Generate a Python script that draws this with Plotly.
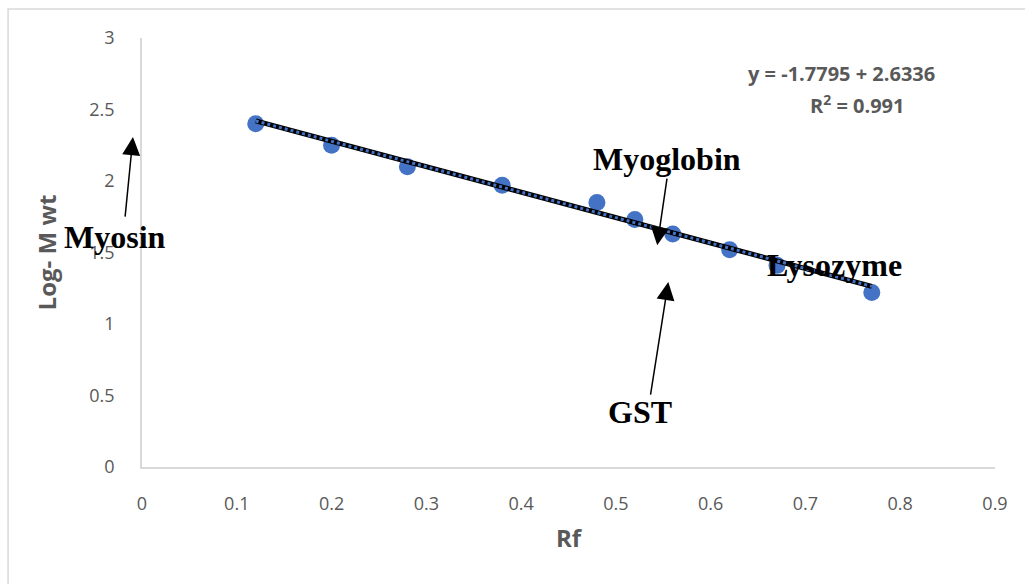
import plotly.graph_objects as go

# Marker proteins: relative mobility vs log molecular weight
rf = [0.12, 0.20, 0.28, 0.38, 0.48, 0.52, 0.56, 0.62, 0.67, 0.77]
log_mw = [2.40, 2.25, 2.10, 1.97, 1.85, 1.73, 1.63, 1.52, 1.41, 1.22]

# Linear fit coefficients and its span
slope = -1.7795
intercept = 2.6336
fit_x = [0.12, 0.77]
fit_y = [intercept + slope * v for v in fit_x]

x_ticks = [0, 0.1, 0.2, 0.3, 0.4, 0.5, 0.6, 0.7, 0.8, 0.9]
x_tick_text = ["0", "0.1", "0.2", "0.3", "0.4", "0.5", "0.6", "0.7", "0.8", "0.9"]
y_ticks = [0, 0.5, 1, 1.5, 2, 2.5, 3]
y_tick_text = ["0", "0.5", "1", "1.5", "2", "2.5", "3"]

# Protein labels in paper coords:
# (name, text x, text y, arrow tip x, arrow tip y, tail dx, tail dy)
proteins = [
    ("Myosin", -0.0317, 0.536, -0.0106, 0.769, -8, 81),
    ("Myoglobin", 0.615, 0.718, 0.604, 0.517, 10, -68),
    ("Lysozyme", 0.812, 0.471, None, None, None, None),
    ("GST", 0.584, 0.128, 0.617, 0.431, -18, 114),
]

CAL = "Liberation Sans Narrow, Open Sans, sans-serif"
GRAY = "#595959"
AXIS = "#d9d9d9"

fig = go.Figure()

fig.add_trace(go.Scatter(
    x=rf, y=log_mw, mode="markers",
    marker=dict(color="#4472C4", size=17, line=dict(width=0)),
    showlegend=False, cliponaxis=False,
))

# Trend line: thick black stroke with blue dots on top
fig.add_trace(go.Scatter(
    x=fit_x, y=fit_y, mode="lines",
    line=dict(color="black", width=5),
    showlegend=False,
))
fig.add_trace(go.Scatter(
    x=fit_x, y=fit_y, mode="lines",
    line=dict(color="#4472C4", width=3, dash="dot"),
    showlegend=False,
))

annotations = []
for name, tx, ty, hx, hy, dx, dy in proteins:
    if hx is not None:
        annotations.append(dict(
            x=hx, y=hy, xref="paper", yref="paper", text="",
            showarrow=True, ax=dx, ay=dy, axref="pixel", ayref="pixel",
            arrowhead=2, arrowsize=2.4, arrowwidth=1.5, arrowcolor="black",
        ))
    annotations.append(dict(
        x=tx, y=ty, xref="paper", yref="paper", text="<b>%s</b>" % name,
        showarrow=False, xanchor="center", yanchor="middle",
        font=dict(family="Liberation Serif, Times New Roman, serif", size=32, color="black"),
    ))

annotations.append(dict(
    x=0.738, y=2.755, xref="x", yref="y",
    text="<b>y = -1.7795 + 2.6336</b>", showarrow=False,
    font=dict(family=CAL, size=20, color=GRAY),
))
annotations.append(dict(
    x=0.755, y=2.538, xref="x", yref="y",
    text="<b>R<sup>2</sup> = 0.991</b>", showarrow=False,
    font=dict(family=CAL, size=20, color=GRAY),
))

fig.update_layout(
    width=1025, height=584,
    margin=dict(l=142, r=30, t=38, b=117),
    paper_bgcolor="white", plot_bgcolor="white",
    annotations=annotations,
    shapes=[dict(
        type="rect", xref="paper", yref="paper",
        x0=-0.157, x1=1.05, y0=-0.3, y1=1.0676,
        line=dict(color=AXIS, width=1.5), layer="below",
    )],
    xaxis=dict(
        range=[0, 0.9], tickvals=x_ticks, ticktext=x_tick_text,
        showgrid=False, zeroline=False, showline=True,
        linecolor=AXIS, linewidth=1.5, ticks="", ticklabelstandoff=20,
        tickfont=dict(family=CAL, size=18, color=GRAY),
        title=dict(text="<b>Rf</b>", standoff=16,
                   font=dict(family=CAL, size=24, color=GRAY)),
    ),
    yaxis=dict(
        range=[0, 3], tickvals=y_ticks, ticktext=y_tick_text,
        showgrid=False, zeroline=False, showline=True,
        linecolor=AXIS, linewidth=1.5, ticks="", ticklabelstandoff=22,
        tickfont=dict(family=CAL, size=18, color=GRAY),
        title=dict(text="<b>Log- M wt</b>", standoff=26,
                   font=dict(family=CAL, size=24, color=GRAY)),
    ),
)

fig.write_html("out.html")
